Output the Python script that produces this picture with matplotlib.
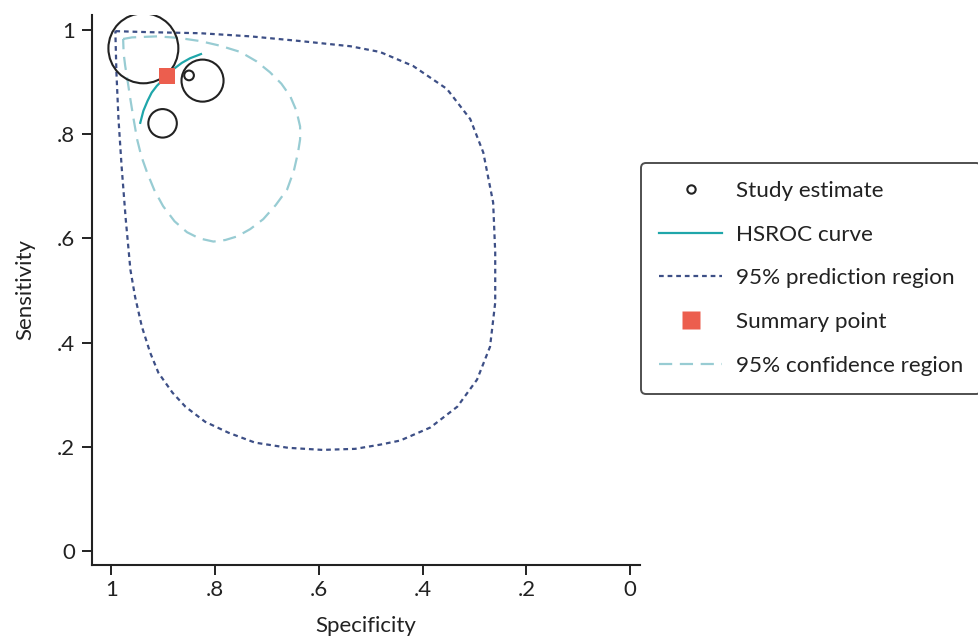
import matplotlib
matplotlib.use('Agg')
import matplotlib.pyplot as plt
from matplotlib.lines import Line2D
import numpy as np

plt.rcParams['font.family'] = ['Lato', 'DejaVu Sans']
plt.rcParams['lines.scale_dashes'] = False

# study estimates (specificity, sensitivity, relative weight)
study_spec = [0.938, 0.824, 0.850, 0.901]
study_sens = [0.965, 0.903, 0.913, 0.821]
study_weight = [130, 47, 2.5, 21.6]

# summary operating point
summary_spec = 0.893
summary_sens = 0.912

# HSROC curve
hsroc_spec = [0.944, 0.938, 0.930, 0.922, 0.912, 0.902, 0.893, 0.880, 0.864, 0.848, 0.827]
hsroc_sens = [0.822, 0.845, 0.864, 0.880, 0.893, 0.903, 0.912, 0.925, 0.937, 0.946, 0.954]

# 95% prediction region
pred_spec = [0.992, 0.960, 0.925, 0.828, 0.732, 0.636, 0.539, 0.482, 0.418, 0.353, 0.308,
             0.283, 0.264, 0.260, 0.260, 0.270, 0.295, 0.333, 0.385, 0.443, 0.482, 0.530,
             0.593, 0.659, 0.723, 0.774, 0.819, 0.857, 0.882, 0.909, 0.925, 0.941, 0.954,
             0.963, 0.972, 0.980, 0.986, 0.990, 0.992]
pred_sens = [0.998, 0.997, 0.996, 0.994, 0.988, 0.979, 0.969, 0.958, 0.931, 0.887, 0.829,
             0.765, 0.669, 0.573, 0.477, 0.392, 0.329, 0.277, 0.237, 0.212, 0.204, 0.196,
             0.194, 0.198, 0.208, 0.227, 0.248, 0.277, 0.304, 0.342, 0.381, 0.431, 0.488,
             0.540, 0.637, 0.739, 0.830, 0.920, 0.998]

# 95% confidence region
conf_spec = [0.977, 0.960, 0.911, 0.870, 0.829, 0.790, 0.751, 0.720, 0.694, 0.672, 0.655,
             0.643, 0.636, 0.636, 0.640, 0.648, 0.661, 0.683, 0.707, 0.732, 0.757, 0.780,
             0.803, 0.830, 0.854, 0.878, 0.900, 0.917, 0.931, 0.942, 0.950, 0.957, 0.963,
             0.968, 0.973, 0.976, 0.977]
conf_sens = [0.983, 0.986, 0.988, 0.985, 0.979, 0.970, 0.958, 0.940, 0.919, 0.897, 0.873,
             0.845, 0.815, 0.790, 0.765, 0.730, 0.694, 0.664, 0.637, 0.618, 0.604, 0.597,
             0.594, 0.600, 0.612, 0.633, 0.662, 0.693, 0.727, 0.758, 0.790, 0.830, 0.867,
             0.900, 0.931, 0.955, 0.983]

ticks = [1, 0.8, 0.6, 0.4, 0.2, 0]
tick_labels = ['1', '.8', '.6', '.4', '.2', '0']

c_pred = '#3d4f86'
c_conf = '#98ccd3'
c_hsroc = '#1fa6aa'
c_sum = '#ec5e4e'
c_dark = '#222222'

fig = plt.figure(figsize=(9.79, 6.37), dpi=100)
ax = fig.add_axes([92 / 979, 72 / 637, 548 / 979, 550 / 637])

ax.plot(pred_spec, pred_sens, color=c_pred, lw=1.6, dashes=(3.4, 2.8))
ax.plot(conf_spec, conf_sens, color=c_conf, lw=1.6, dashes=(9.5, 5.5))
ax.plot(hsroc_spec, hsroc_sens, color=c_hsroc, lw=1.6)
ax.scatter(study_spec, study_sens, s=np.array(study_weight) * 19.5,
           facecolors='none', edgecolors=c_dark, linewidths=1.5, zorder=4)
ax.scatter([summary_spec], [summary_sens], marker='s', s=135, color=c_sum,
           edgecolors='none', zorder=5)

ax.set_xlim(1.037, -0.019)
ax.set_ylim(-0.027, 1.029)
ax.set_xticks(ticks, tick_labels)
ax.set_yticks(ticks, tick_labels)
for s in ['top', 'right']:
    ax.spines[s].set_visible(False)
for s in ['left', 'bottom']:
    ax.spines[s].set_linewidth(1.5)
    ax.spines[s].set_color(c_dark)
ax.tick_params(axis='both', length=7, width=1.4, color=c_dark, labelsize=16,
               labelcolor=c_dark)
ax.tick_params(axis='x', pad=4)
ax.tick_params(axis='y', pad=5)
ax.set_xlabel('Specificity', fontsize=16, color=c_dark, labelpad=11)
ax.set_ylabel('Sensitivity', fontsize=16, color=c_dark, labelpad=16)

handles = [
    Line2D([], [], ls='none', marker='o', ms=6, mfc='none', mec=c_dark, mew=1.5),
    Line2D([], [], color=c_hsroc, lw=1.6),
    Line2D([], [], color=c_pred, lw=1.6, dashes=(3.4, 2.8)),
    Line2D([], [], ls='none', marker='s', ms=12.5, mfc=c_sum, mec='none'),
    Line2D([], [], color=c_conf, lw=1.6, dashes=(9.5, 5.5)),
]
labels = ['Study estimate', 'HSROC curve', '95% prediction region',
          'Summary point', '95% confidence region']
leg = fig.legend(handles, labels, loc='upper left', bbox_to_anchor=(641 / 979, 1 - 163 / 637),
                 borderaxespad=0, fontsize=16.2, frameon=True, fancybox=True,
                 handlelength=2.8, handletextpad=0.6, labelspacing=1.05, borderpad=0.8,
                 labelcolor=c_dark)
leg.get_frame().set_edgecolor(c_dark)
leg.get_frame().set_linewidth(1.4)

fig.savefig('out.png', dpi=100)
